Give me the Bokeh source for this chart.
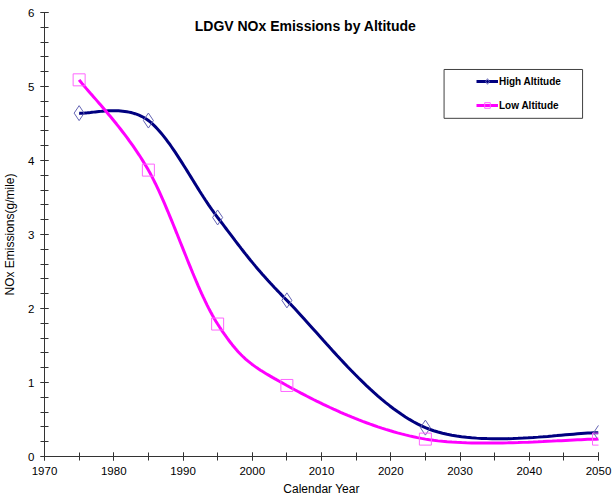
import numpy as np
from bokeh.plotting import figure
from bokeh.models import (Legend, LegendItem, Label, BoxAnnotation, FixedTicker,
                          Range1d)
from bokeh.embed import file_html
from bokeh.resources import INLINE

# ---- data ----
years = [1975, 1985, 1995, 2005, 2025, 2050]
high_altitude = [4.64, 4.54, 3.23, 2.11, 0.39, 0.32]
low_altitude = [5.09, 3.87, 1.79, 0.96, 0.235, 0.235]
title_text = "LDGV NOx Emissions by Altitude"
x_ticks = [1970, 1980, 1990, 2000, 2010, 2020, 2030, 2040, 2050]
y_ticks = [0, 1, 2, 3, 4, 5, 6]


def smooth(xs, ys, n=40):
    """Excel-style smoothed line (cubic Bezier, tension 1/6)."""
    P = np.column_stack([xs, ys]).astype(float)
    m = len(P)
    out_x, out_y = [], []
    t = np.linspace(0, 1, n)
    for i in range(m - 1):
        p0 = P[i]
        p3 = P[i + 1]
        pm = P[i - 1] if i > 0 else P[i]
        pp = P[i + 2] if i + 2 < m else P[i + 1]
        c1 = p0 + (p3 - pm) / 6.0
        c2 = p3 - (pp - p0) / 6.0
        b = ((1 - t) ** 3)[:, None] * p0 + (3 * (1 - t) ** 2 * t)[:, None] * c1 \
            + (3 * (1 - t) * t ** 2)[:, None] * c2 + (t ** 3)[:, None] * p3
        seg = b if i == 0 else b[1:]
        out_x.extend(seg[:, 0])
        out_y.extend(seg[:, 1])
    return out_x, out_y


FONT = "Liberation Sans"

p = figure(width=612, height=502, output_backend="svg", toolbar_location=None,
           x_range=Range1d(1970, 2050), y_range=Range1d(0, 6),
           min_border_left=43, min_border_right=14, min_border_top=12,
           min_border_bottom=46)
p.outline_line_color = None
p.grid.visible = False
p.background_fill_color = "white"

hx, hy = smooth(years, high_altitude)
lx, ly = smooth(years, low_altitude)

hl = p.line(hx, hy, line_color="#000080", line_width=3)
hm = p.scatter(years, high_altitude, marker="diamond", size=15,
               fill_color=None, line_color="#6464b4", line_width=1)
ll = p.line(lx, ly, line_color="#ff00ff", line_width=3)
lm = p.scatter(years, low_altitude, marker="square", size=12,
               fill_color=None, line_color="#ff66ff", line_width=1)

# axes
for ax in (p.xaxis[0], p.yaxis[0]):
    ax.axis_line_color = "#333333"
    ax.major_tick_line_color = "#333333"
    ax.minor_tick_line_color = "#333333"
    ax.major_tick_in = 4
    ax.major_tick_out = 4
    ax.minor_tick_in = 4
    ax.minor_tick_out = 4
    ax.major_label_text_font = FONT
    ax.major_label_text_font_size = "11.5px"
    ax.major_label_text_color = "black"
    ax.axis_label_text_font = FONT
    ax.axis_label_text_font_size = "12px"
    ax.axis_label_text_font_style = "normal"
    ax.axis_label_text_color = "black"

p.xaxis.ticker = FixedTicker(ticks=x_ticks, minor_ticks=list(range(1970, 2051, 5)))
p.yaxis.ticker = FixedTicker(ticks=y_ticks,
                             minor_ticks=[round(v * 0.2, 1) for v in range(31)])
p.xaxis.axis_label = "Calendar Year"
p.yaxis.axis_label = "NOx Emissions(g/mile)"
p.xaxis.major_label_standoff = 6
p.xaxis.axis_label_standoff = 4
p.yaxis.major_label_standoff = 6
p.yaxis.axis_label_standoff = 8

# title inside plot area
p.add_layout(Label(x=2007.7, y=5.82, text=title_text, text_align="center",
                   text_baseline="middle", text_font=FONT,
                   text_font_style="bold", text_font_size="14px",
                   text_color="black"))

# legend frame
p.add_layout(BoxAnnotation(left=2027.7, right=2047.7, top=5.23, bottom=4.57,
                           fill_alpha=0, line_color="#404040", line_width=1,
                           line_alpha=1))

legend = Legend(items=[LegendItem(label="High Altitude", renderers=[hl, hm]),
                       LegendItem(label="Low Altitude", renderers=[ll, lm])],
                location=(432, 344), padding=0, spacing=10,
                label_height=14, glyph_height=14, glyph_width=22,
                label_standoff=1, border_line_alpha=0,
                background_fill_alpha=0, label_text_font=FONT,
                label_text_font_style="bold", label_text_font_size="10px",
                label_text_color="black", margin=0)
p.add_layout(legend)

open("out.html", "w").write(file_html(p, INLINE))
